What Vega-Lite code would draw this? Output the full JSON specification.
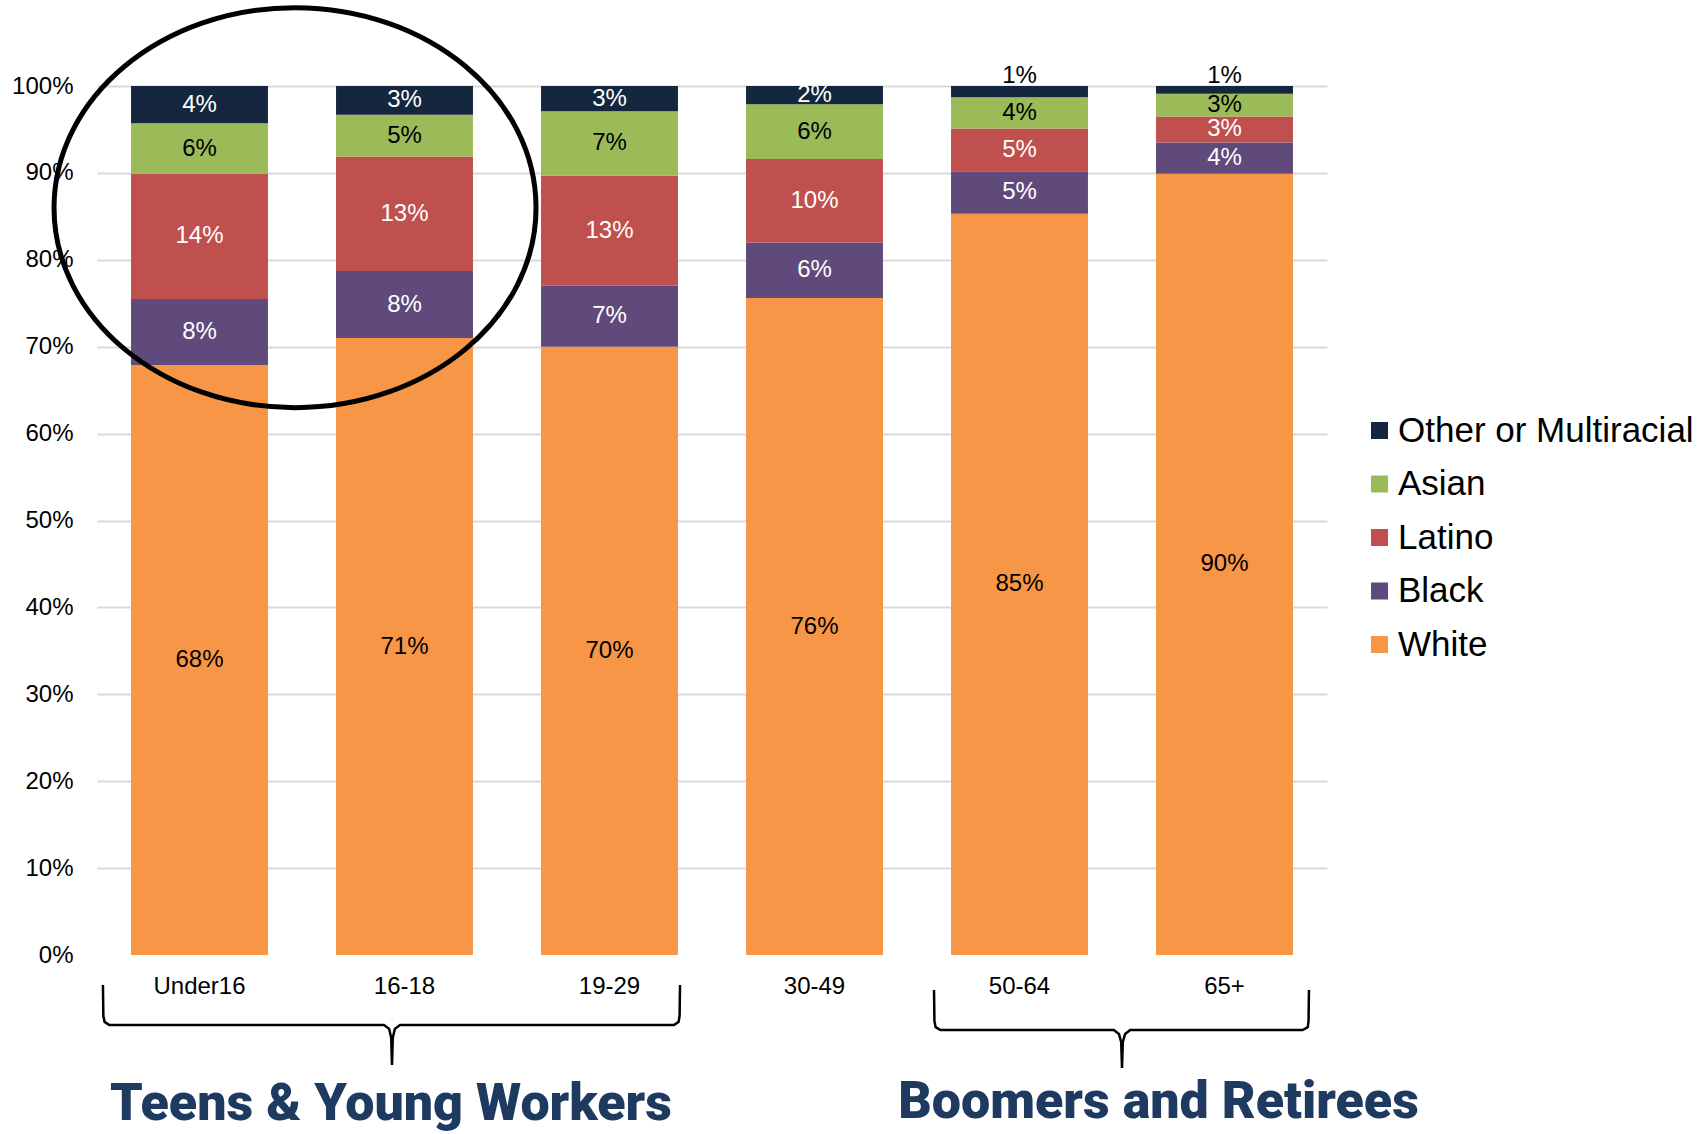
{
  "$schema": "https://vega.github.io/schema/vega-lite/v6.json",
  "width": 1230,
  "height": 869,
  "autosize": {"type": "none"},
  "padding": {"left": 97, "top": 86, "right": 380, "bottom": 179},
  "background": "white",
  "config": {"view": {"stroke": null}, "font": "Liberation Sans"},
  "datasets": {
    "shares": [
      {"age": "Under16", "race": "White", "value": 0.679},
      {"age": "Under16", "race": "Black", "value": 0.076},
      {"age": "Under16", "race": "Latino", "value": 0.144},
      {"age": "Under16", "race": "Asian", "value": 0.058},
      {"age": "Under16", "race": "Other or Multiracial", "value": 0.043},
      {"age": "16-18", "race": "White", "value": 0.710},
      {"age": "16-18", "race": "Black", "value": 0.077},
      {"age": "16-18", "race": "Latino", "value": 0.132},
      {"age": "16-18", "race": "Asian", "value": 0.048},
      {"age": "16-18", "race": "Other or Multiracial", "value": 0.033},
      {"age": "19-29", "race": "White", "value": 0.700},
      {"age": "19-29", "race": "Black", "value": 0.070},
      {"age": "19-29", "race": "Latino", "value": 0.127},
      {"age": "19-29", "race": "Asian", "value": 0.074},
      {"age": "19-29", "race": "Other or Multiracial", "value": 0.029},
      {"age": "30-49", "race": "White", "value": 0.756},
      {"age": "30-49", "race": "Black", "value": 0.064},
      {"age": "30-49", "race": "Latino", "value": 0.096},
      {"age": "30-49", "race": "Asian", "value": 0.063},
      {"age": "30-49", "race": "Other or Multiracial", "value": 0.021},
      {"age": "50-64", "race": "White", "value": 0.853},
      {"age": "50-64", "race": "Black", "value": 0.049},
      {"age": "50-64", "race": "Latino", "value": 0.049},
      {"age": "50-64", "race": "Asian", "value": 0.036},
      {"age": "50-64", "race": "Other or Multiracial", "value": 0.013},
      {"age": "65+", "race": "White", "value": 0.899},
      {"age": "65+", "race": "Black", "value": 0.036},
      {"age": "65+", "race": "Latino", "value": 0.030},
      {"age": "65+", "race": "Asian", "value": 0.026},
      {"age": "65+", "race": "Other or Multiracial", "value": 0.009}
    ],
    "races": [
      {"race": "White", "rank": 1},
      {"race": "Black", "rank": 2},
      {"race": "Latino", "rank": 3},
      {"race": "Asian", "rank": 4},
      {"race": "Other or Multiracial", "rank": 5}
    ],
    "braces": [
      {"brace": "A", "ord": 0, "bx": 0.029, "by": -0.0345},
      {"brace": "A", "ord": 1, "bx": 0.031, "by": -0.070},
      {"brace": "A", "ord": 2, "bx": 0.037, "by": -0.077},
      {"brace": "A", "ord": 3, "bx": 0.060, "by": -0.0806},
      {"brace": "A", "ord": 4, "bx": 1.400, "by": -0.0806},
      {"brace": "A", "ord": 5, "bx": 1.425, "by": -0.085},
      {"brace": "A", "ord": 6, "bx": 1.435, "by": -0.095},
      {"brace": "A", "ord": 7, "bx": 1.439, "by": -0.1266},
      {"brace": "A", "ord": 8, "bx": 1.443, "by": -0.095},
      {"brace": "A", "ord": 9, "bx": 1.453, "by": -0.085},
      {"brace": "A", "ord": 10, "bx": 1.478, "by": -0.0806},
      {"brace": "A", "ord": 11, "bx": 2.814, "by": -0.0806},
      {"brace": "A", "ord": 12, "bx": 2.837, "by": -0.077},
      {"brace": "A", "ord": 13, "bx": 2.842, "by": -0.070},
      {"brace": "A", "ord": 14, "bx": 2.844, "by": -0.0345},
      {"brace": "B", "ord": 0, "bx": 4.083, "by": -0.0403},
      {"brace": "B", "ord": 1, "bx": 4.085, "by": -0.076},
      {"brace": "B", "ord": 2, "bx": 4.091, "by": -0.083},
      {"brace": "B", "ord": 3, "bx": 4.114, "by": -0.0863},
      {"brace": "B", "ord": 4, "bx": 4.960, "by": -0.0863},
      {"brace": "B", "ord": 5, "bx": 4.985, "by": -0.091},
      {"brace": "B", "ord": 6, "bx": 4.996, "by": -0.100},
      {"brace": "B", "ord": 7, "bx": 5.000, "by": -0.130},
      {"brace": "B", "ord": 8, "bx": 5.004, "by": -0.100},
      {"brace": "B", "ord": 9, "bx": 5.015, "by": -0.091},
      {"brace": "B", "ord": 10, "bx": 5.040, "by": -0.0863},
      {"brace": "B", "ord": 11, "bx": 5.881, "by": -0.0863},
      {"brace": "B", "ord": 12, "bx": 5.906, "by": -0.083},
      {"brace": "B", "ord": 13, "bx": 5.910, "by": -0.076},
      {"brace": "B", "ord": 14, "bx": 5.912, "by": -0.0403}
    ],
    "groups": [
      {"label": "Teens & Young Workers", "gx": 1.434, "gy": -0.19},
      {"label": "Boomers and Retirees", "gx": 5.178, "gy": -0.188}
    ],
    "circle": [
      {"cx": 0.966, "cy": 0.86}
    ]
  },
  "layer": [
    {
      "data": {"name": "shares"},
      "transform": [
        {"lookup": "race", "from": {"data": {"name": "races"}, "key": "race", "fields": ["rank"]}}
      ],
      "encoding": {
        "x": {
          "field": "age",
          "type": "nominal",
          "sort": ["Under16", "16-18", "19-29", "30-49", "50-64", "65+"],
          "scale": {"paddingInner": 0.332, "paddingOuter": 0.166},
          "axis": {
            "title": null,
            "labelAngle": 0,
            "labelFontSize": 24,
            "labelColor": "#000000",
            "labelPadding": 19,
            "ticks": false,
            "domain": false
          }
        }
      },
      "layer": [
        {
          "mark": {"type": "bar"},
          "encoding": {
            "y": {
              "field": "value",
              "type": "quantitative",
              "stack": "zero",
              "scale": {"domain": [0, 1], "nice": false},
              "axis": {
                "title": null,
                "values": [0, 0.1, 0.2, 0.3, 0.4, 0.5, 0.6, 0.7, 0.8, 0.9, 1],
                "format": ".0%",
                "labelFontSize": 24,
                "labelColor": "#000000",
                "labelPadding": 24,
                "ticks": false,
                "domain": false,
                "grid": true,
                "gridColor": {"condition": {"test": "datum.value === 0", "value": "transparent"}, "value": "#d9d9d9"},
                "gridWidth": 2
              }
            },
            "order": {"field": "rank", "type": "quantitative", "sort": "ascending"},
            "color": {
              "field": "race",
              "type": "nominal",
              "sort": ["Other or Multiracial", "Asian", "Latino", "Black", "White"],
              "scale": {
                "domain": ["Other or Multiracial", "Asian", "Latino", "Black", "White"],
                "range": ["#14273F", "#9BBB59", "#C0504D", "#604A7B", "#F79646"]
              },
              "legend": {
                "title": null,
                "orient": "none",
                "legendX": 1265,
                "legendY": 327,
                "symbolType": "square",
                "symbolSize": 289,
                "symbolStrokeWidth": 0,
                "labelFontSize": 35,
                "labelColor": "#000000",
                "labelOffset": 1,
                "rowPadding": 17.5,
                "labelLimit": 400
              }
            }
          }
        },
        {
          "transform": [{"filter": "!(datum.race === 'Other or Multiracial' && datum.value < 0.015)"}],
          "mark": {"type": "text", "baseline": "middle", "align": "center", "fontSize": 24},
          "encoding": {
            "y": {"field": "value", "type": "quantitative", "stack": "zero", "bandPosition": 0.5},
            "detail": {"field": "race", "type": "nominal"},
            "order": {"field": "rank", "type": "quantitative", "sort": "ascending"},
            "color": {
              "condition": {"test": "datum.race === 'Asian' || datum.race === 'White'", "value": "#000000"},
              "value": "#ffffff"
            },
            "text": {"field": "value", "type": "quantitative", "format": ".0%"}
          }
        },
        {
          "transform": [{"filter": "datum.race === 'Other or Multiracial' && datum.value < 0.015"}],
          "mark": {"type": "text", "baseline": "middle", "align": "center", "fontSize": 24, "dy": -10, "color": "#000000"},
          "encoding": {
            "y": {"datum": 1, "type": "quantitative"},
            "text": {"field": "value", "type": "quantitative", "format": ".0%"}
          }
        }
      ]
    },
    {
      "encoding": {},
      "layer": [
        {
          "data": {"name": "circle"},
          "mark": {
            "type": "point",
            "shape": "M -1 0 A 1 0.83 0 1 1 1 0 A 1 0.83 0 1 1 -1 0 Z",
            "filled": false,
            "stroke": "#000000",
            "strokeWidth": 5,
            "opacity": 1,
            "size": 232324
          },
          "encoding": {
            "x": {"field": "cx", "type": "quantitative", "scale": {"domain": [0, 6], "nice": false, "zero": false}, "axis": null},
            "y": {"field": "cy", "type": "quantitative", "scale": {"domain": [0, 1], "nice": false, "zero": false}, "axis": null}
          }
        },
        {
          "data": {"name": "braces"},
          "mark": {"type": "line", "color": "#000000", "strokeWidth": 2.5, "interpolate": "linear"},
          "encoding": {
            "x": {"field": "bx", "type": "quantitative", "scale": {"domain": [0, 6], "nice": false, "zero": false}, "axis": null},
            "y": {"field": "by", "type": "quantitative", "scale": {"domain": [0, 1], "nice": false, "zero": false}, "axis": null},
            "detail": {"field": "brace", "type": "nominal"},
            "order": {"field": "ord", "type": "quantitative"}
          }
        },
        {
          "data": {"name": "groups"},
          "mark": {
            "type": "text",
            "font": "Roboto",
            "fontWeight": 900,
            "fontSize": 52,
            "color": "#1F3A60",
            "align": "center",
            "baseline": "alphabetic"
          },
          "encoding": {
            "x": {"field": "gx", "type": "quantitative", "scale": {"domain": [0, 6], "nice": false, "zero": false}, "axis": null},
            "y": {"field": "gy", "type": "quantitative", "scale": {"domain": [0, 1], "nice": false, "zero": false}, "axis": null},
            "text": {"field": "label", "type": "nominal"}
          }
        }
      ]
    }
  ],
  "resolve": {"scale": {"x": "independent", "y": "independent"}, "axis": {"x": "independent", "y": "independent"}}
}
